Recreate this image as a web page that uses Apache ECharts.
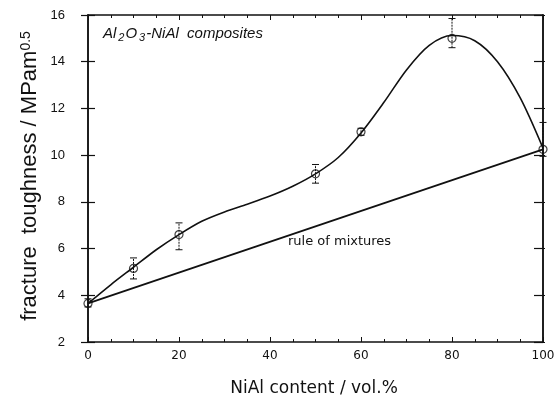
<!DOCTYPE html>
<html><head><meta charset="utf-8">
<script src="https://cdn.jsdelivr.net/npm/echarts@6/dist/echarts.min.js"></script>
<style>html,body{margin:0;padding:0;background:#fff}#c{width:560px;height:403px}</style>
</head><body><div id="c"></div>
<script>
// measured points (NiAl vol.% , fracture toughness MPa m^0.5)
const pointX = [0, 10, 20, 50, 60, 80, 100];
const pointY = [3.65, 5.15, 6.6, 9.2, 11.0, 15.0, 10.25];
const errLow = [3.5, 4.7, 5.95, 8.8, 10.85, 14.6, 9.95];
const errHigh = [3.85, 5.6, 7.1, 9.6, 11.15, 15.85, 11.4];
// fitted curve
const curveX = [0, 5, 10, 15, 20, 25, 30, 35, 40, 45, 50, 55, 60, 65, 70, 75, 80, 85, 90, 95, 100];
const curveY = [3.65, 4.45, 5.2, 5.95, 6.6, 7.17, 7.57, 7.9, 8.25, 8.67, 9.2, 9.9, 10.95, 12.25, 13.65, 14.7, 15.12, 14.9, 14.0, 12.45, 10.3];
// rule of mixtures line
const ruleX = [0, 100];
const ruleY = [3.65, 10.25];
const xTicks = [0, 20, 40, 60, 80, 100];
const yTicks = [2, 4, 6, 8, 10, 12, 14, 16];

const zip = (a, b) => a.map((v, i) => [v, b[i]]);
const chart = echarts.init(document.getElementById('c'));
const black = '#111';
const baseX = {
  type: 'value', min: 0, max: 100, interval: 20,
  axisLine: { onZero: false, lineStyle: { color: black, width: 1.5 } },
  splitLine: { show: false },
  axisTick: { inside: true, length: 5, lineStyle: { color: black, width: 1 } },
  minorTick: { show: true, splitNumber: 4, length: 3, lineStyle: { color: black, width: 1 } }
};
const baseY = {
  type: 'value', min: 2, max: 16, interval: 2,
  splitLine: { show: false },
  axisLine: { onZero: false, lineStyle: { color: black, width: 1.5 } }
};
chart.setOption({
  animation: false,
  grid: { left: 88, right: 17, top: 15, bottom: 61 },
  xAxis: [
    Object.assign({}, baseX, {
      position: 'bottom',
      axisLabel: { margin: 8, color: black, fontFamily: 'DejaVu Sans', fontSize: 12,
        formatter: v => xTicks.includes(v) ? String(v) : '' }
    }),
    Object.assign({}, baseX, { position: 'top', axisLabel: { show: false } })
  ],
  yAxis: [
    Object.assign({}, baseY, {
      position: 'left',
      axisTick: { inside: false, length: 7, lineStyle: { color: black, width: 1.2 } },
      axisLabel: { margin: 23, color: black, fontFamily: 'Liberation Sans', fontSize: 13,
        formatter: v => yTicks.includes(v) ? String(v) : '' }
    }),
    Object.assign({}, baseY, {
      position: 'left',
      axisTick: { inside: true, length: 7, lineStyle: { color: black, width: 1.2 } },
      axisLabel: { show: false }
    }),
    Object.assign({}, baseY, {
      position: 'right',
      axisTick: { inside: true, length: 9, lineStyle: { color: black, width: 1.2 } },
      axisLabel: { show: false }
    }),
    Object.assign({}, baseY, {
      position: 'right',
      axisTick: { inside: false, length: 2, lineStyle: { color: black, width: 1.2 } },
      axisLabel: { show: false }
    })
  ],
  series: [
    {
      type: 'line', data: zip(ruleX, ruleY), symbol: 'none',
      lineStyle: { color: black, width: 1.8 }, z: 2
    },
    {
      type: 'line', data: zip(curveX, curveY), symbol: 'none', smooth: 0.3,
      lineStyle: { color: black, width: 1.6 }, z: 2
    },
    {
      type: 'custom', z: 3,
      data: pointX.map((x, i) => [x, errLow[i], errHigh[i]]),
      renderItem: (params, api) => {
        const lo = api.coord([api.value(0), api.value(1)]);
        const hi = api.coord([api.value(0), api.value(2)]);
        const w = 3.5;
        const st = { stroke: black, lineWidth: 1 };
        return { type: 'group', children: [
          { type: 'line', shape: { x1: lo[0], y1: lo[1], x2: hi[0], y2: hi[1] }, style: Object.assign({ lineDash: [2, 1] }, st) },
          { type: 'line', shape: { x1: lo[0] - w, y1: lo[1], x2: lo[0] + w, y2: lo[1] }, style: st },
          { type: 'line', shape: { x1: hi[0] - w, y1: hi[1], x2: hi[0] + w, y2: hi[1] }, style: st }
        ]};
      }
    },
    {
      type: 'scatter', data: zip(pointX, pointY), symbol: 'circle', symbolSize: 8, z: 4,
      itemStyle: { color: 'rgba(255,255,255,0)', borderColor: black, borderWidth: 1.2 }
    }
  ],
  graphic: [
    {
      type: 'text', x: 30, y: 176, rotation: Math.PI / 2,
      style: {
        text: 'fracture  toughness / MPam{s|0.5}',
        fill: black, font: '22px "Liberation Sans"',
        align: 'center', verticalAlign: 'middle',
        rich: { s: { fontSize: 14, fontFamily: 'Liberation Sans', verticalAlign: 'top', fill: black } }
      }
    },
    {
      type: 'text', x: 314, y: 389,
      style: { text: 'NiAl content / vol.%', fill: black, font: '17px "DejaVu Sans"', align: 'center', verticalAlign: 'middle' }
    },
    {
      type: 'text', x: 103, y: 24,
      style: {
        text: 'Al{b|2}O{b|3}-NiAl  composites',
        fill: black, font: 'italic 15px "Liberation Sans"',
        align: 'left', verticalAlign: 'top',
        rich: { b: { fontSize: 11, fontFamily: 'Liberation Sans', fontStyle: 'italic', verticalAlign: 'bottom', padding: [8, 1, 0, 2], fill: black } }
      }
    },
    {
      type: 'text', x: 288, y: 242,
      style: { text: 'rule of mixtures', fill: black, font: '13px "DejaVu Sans"', align: 'left', verticalAlign: 'middle' }
    }
  ]
});
</script></body></html>
